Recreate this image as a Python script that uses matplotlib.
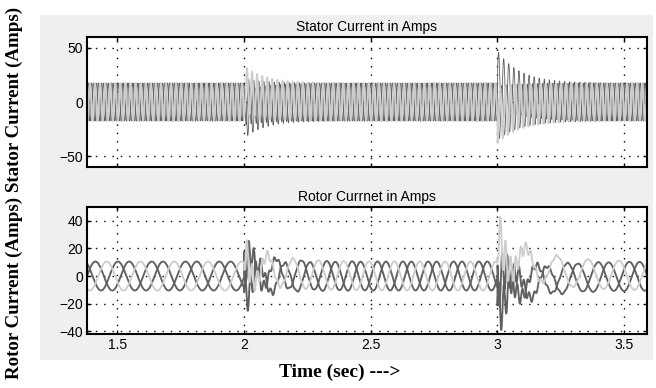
import numpy as np
import matplotlib
matplotlib.use("Agg")
import matplotlib.pyplot as plt
from matplotlib.patches import Rectangle

# ---- data ----
time_ticks = [1.5, 2, 2.5, 3, 3.5]
time_tick_labels = ["1.5", "2", "2.5", "3", "3.5"]
stator_yticks = [-50, 0, 50]
rotor_yticks = [-40, -20, 0, 20, 40]
x_range = [1.38, 3.59]
event_times = [2.0, 3.0]

stator_freq = 50.0            # Hz
stator_amp = 17.5             # A, steady-state peak
stator_dc = [[-12, 12, 0],    # per-phase DC offset at each event
             [22, -13, -10]]
stator_ac_boost = [5, 9]      # extra AC peak at each event
stator_tau = [0.08, 0.09]     # decay (s)

rotor_seg_bounds = [1.38, 2.0, 3.0, 3.6]
rotor_seg_freq = [7.5, 10.0, 8.2]   # Hz in each segment
rotor_amp = 10.5
rotor_hf_amp = [15, 20]             # 50 Hz transient component
rotor_dc = [[-4, 10, 6], [-14, 22, -8]]
rotor_tau = [0.06, 0.07]

dark = "#606060"
light = "#cdcdcd"
phase_colors = [dark, light, dark]

# ---- build the waveforms ----
dt = 2e-4
t = np.arange(x_range[0], 3.6, dt)
shifts = [0, -2 * np.pi / 3, 2 * np.pi / 3]

stator = []
for k in range(3):
    y = stator_amp * np.sin(2 * np.pi * stator_freq * t + shifts[k])
    for e, te in enumerate(event_times):
        m = t >= te
        env = np.exp(-(t[m] - te) / stator_tau[e])
        y[m] += stator_dc[e][k] * env
        y[m] += stator_ac_boost[e] * env * np.sin(2 * np.pi * stator_freq * t[m] + shifts[k] + 0.7)
    stator.append(y)

freq = np.zeros_like(t)
for i in range(3):
    freq[(t >= rotor_seg_bounds[i]) & (t < rotor_seg_bounds[i + 1])] = rotor_seg_freq[i]
phase = 2 * np.pi * np.cumsum(freq) * dt
rotor = []
for k in range(3):
    y = rotor_amp * np.sin(phase + shifts[k])
    for e, te in enumerate(event_times):
        m = t >= te
        env = np.exp(-(t[m] - te) / rotor_tau[e])
        y[m] += rotor_dc[e][k] * np.exp(-(t[m] - te) / (2 * rotor_tau[e]))
        y[m] += rotor_hf_amp[e] * env * np.sin(2 * np.pi * 50 * (t[m] - te) + shifts[k])
    rotor.append(y)

# ---- figure ----
W, H = 656, 388
fig = plt.figure(figsize=(W / 100, H / 100), dpi=100)
fig.patch.set_facecolor("white")
fig.add_artist(Rectangle((40 / W, 1 - 360 / H), 613 / W, 345 / H,
                         transform=fig.transFigure, facecolor="#efefef",
                         edgecolor="none", zorder=0))

def ax_rect(l, t_, r, b):
    return [l / W, 1 - b / H, (r - l) / W, (b - t_) / H]

ax1 = fig.add_axes(ax_rect(87, 37, 647, 167))
ax2 = fig.add_axes(ax_rect(87, 207, 647, 334))

sans = "Liberation Sans"
for ax, data, yt, yl, title, lws in [
    (ax1, stator, stator_yticks, (-60, 60), "Stator Current in Amps", [0.6, 1.3, 0.6]),
    (ax2, rotor, rotor_yticks, (-42, 50), "Rotor Currnet in Amps", [1.35, 1.35, 1.35]),
]:
    ax.set_facecolor("white")
    for k in [0, 2, 1]:
        ax.plot(t, data[k], color=phase_colors[k], lw=lws[k])
    ax.set_xlim(*x_range)
    ax.set_ylim(*yl)
    ax.set_yticks(yt)
    ax.set_xticks(time_ticks)
    ax.grid(True, color="black", linestyle=(0, (1, 5)), linewidth=1.0)
    ax.tick_params(direction="in", length=3, width=1, top=True, right=True,
                   labelsize=10, colors="black", pad=3)
    for lab in ax.get_xticklabels() + ax.get_yticklabels():
        lab.set_family(sans)
    for s in ax.spines.values():
        s.set_linewidth(1.5)
    ax.set_title(title, fontsize=10, pad=4, family=sans)

ax1.set_xticklabels([])
ax2.set_xticklabels(time_tick_labels, family=sans)

fig.text(14 / W, 1 - 193 / H, "Rotor Current (Amps) Stator Current (Amps)", rotation=90,
         ha="center", va="center", family="Liberation Serif", fontweight="bold",
         fontsize=13.6)
fig.text(340 / W, 1 - 372 / H, "Time (sec) --->", ha="center", va="center",
         family="Liberation Serif", fontweight="bold", fontsize=14)

fig.savefig("out.png", dpi=100, facecolor=fig.get_facecolor())
